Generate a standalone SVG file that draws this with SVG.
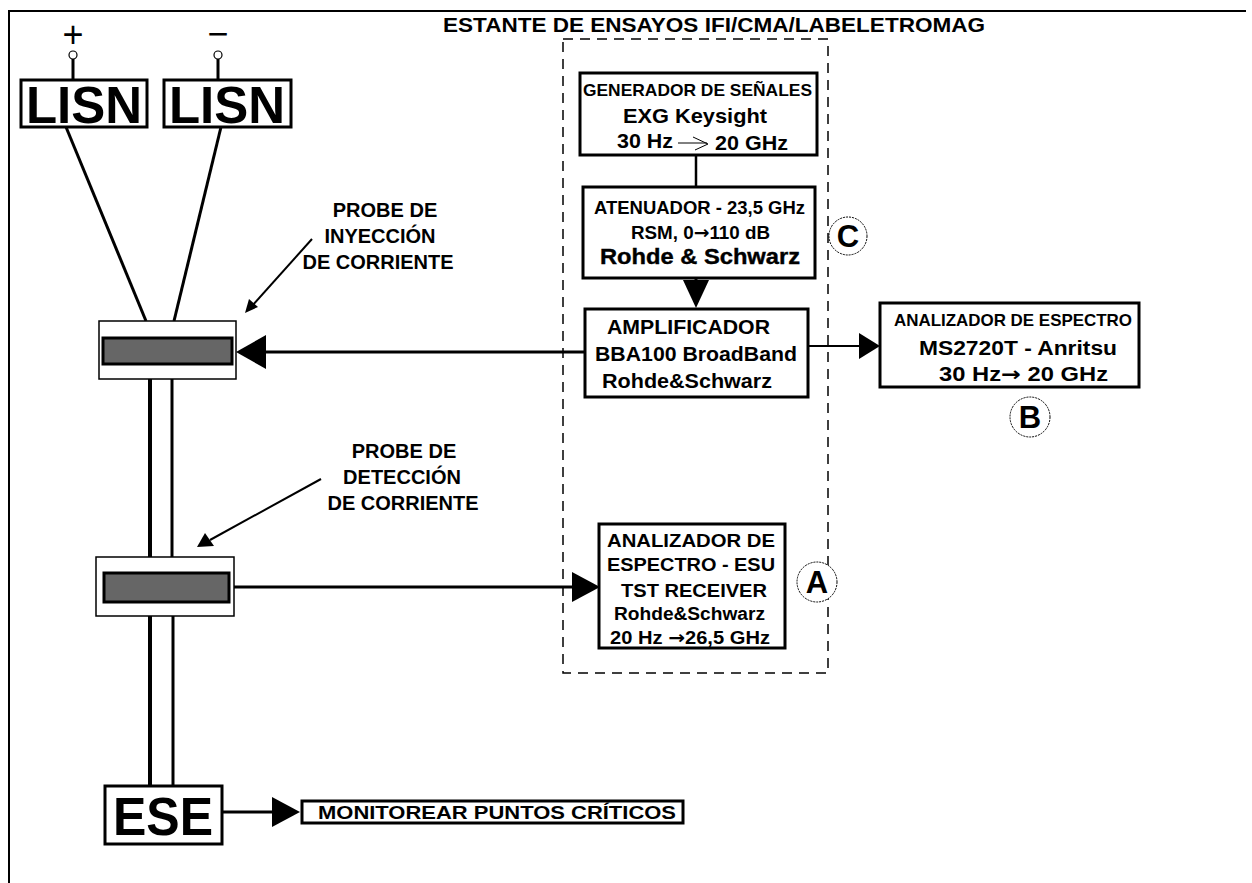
<svg xmlns="http://www.w3.org/2000/svg" width="1252" height="883" viewBox="0 0 1252 883">
<defs>
<style>
.t{font-family:"Liberation Sans",Arial,sans-serif;font-weight:bold;fill:#000}
.ar{font-family:"DejaVu Sans",sans-serif;font-weight:bold}
.box{fill:#fff;stroke:#000;stroke-width:3}
.thin{fill:#fff;stroke:#000;stroke-width:1.5}
.bar{fill:#666;stroke:#000;stroke-width:3}
.ln{stroke:#000;stroke-width:3;fill:none}
.circ{fill:#fff;stroke:#000;stroke-width:1;stroke-dasharray:2 1}
</style>
</defs>
<rect width="1252" height="883" fill="#fff"/>
<g id="frame">
<line x1="8" y1="11" x2="1246" y2="11" stroke="#000" stroke-width="2"/>
<line x1="9" y1="10" x2="9" y2="883" stroke="#000" stroke-width="2"/>
<text class="t" x="443" y="32" font-size="21" textLength="542" lengthAdjust="spacingAndGlyphs">ESTANTE DE ENSAYOS IFI/CMA/LABELETROMAG</text>
<rect x="563" y="39" width="265" height="634" fill="none" stroke="#000" stroke-width="1.5" stroke-dasharray="10 7"/>
</g>
<g id="connectors">
<line class="ln" x1="73" y1="59" x2="73" y2="80"/>
<line class="ln" x1="218" y1="59" x2="218" y2="80"/>
<line class="ln" x1="66" y1="127" x2="146" y2="321"/>
<line class="ln" x1="221" y1="127" x2="174" y2="321"/>
<line x1="150" y1="379" x2="150" y2="557" stroke="#000" stroke-width="4"/>
<line x1="172" y1="379" x2="172" y2="557" stroke="#000" stroke-width="3"/>
<line x1="150" y1="616" x2="150" y2="786" stroke="#000" stroke-width="4"/>
<line x1="173" y1="616" x2="173" y2="786" stroke="#000" stroke-width="3"/>
<line x1="696" y1="155" x2="696" y2="187" stroke="#000" stroke-width="2.5"/>
<line class="ln" x1="696" y1="278" x2="696" y2="284"/>
<polygon points="683,280 709,280 696,308"/>
<line class="ln" x1="585" y1="352" x2="262" y2="352"/>
<polygon points="236,352 266,335 266,369"/>
<line x1="808" y1="346" x2="862" y2="346" stroke="#000" stroke-width="2"/>
<polygon points="880,346 859,333 859,359"/>
<line class="ln" x1="233" y1="587" x2="575" y2="587"/>
<polygon points="600,587 572,572 572,602"/>
<line class="ln" x1="222" y1="812" x2="275" y2="812"/>
<polygon points="300,812 272,797 272,827"/>
<line x1="312" y1="239" x2="252" y2="306" stroke="#000" stroke-width="2"/>
<polygon points="245,313 249,299 258,307"/>
<line x1="321" y1="479" x2="210" y2="540" stroke="#000" stroke-width="2"/>
<polygon points="197,547 205,533 214,546"/>
</g>
<g id="plus">
<text x="73" y="47" font-family="Liberation Sans, Arial, sans-serif" font-size="36" text-anchor="middle">+</text>
<circle cx="73" cy="55" r="4" fill="#fff" stroke="#000" stroke-width="1.2"/>
</g>
<g id="minus">
<text x="218" y="46" font-family="Liberation Sans, Arial, sans-serif" font-size="36" text-anchor="middle">−</text>
<circle cx="218" cy="55" r="4" fill="#fff" stroke="#000" stroke-width="1.2"/>
</g>
<g id="lisn1">
<rect class="box" x="21" y="80" width="126" height="47"/>
<text class="t" x="84" y="123" font-size="52" text-anchor="middle" textLength="116" lengthAdjust="spacingAndGlyphs">LISN</text>
</g>
<g id="lisn2">
<rect class="box" x="164" y="80" width="127" height="47"/>
<text class="t" x="227" y="123" font-size="52" text-anchor="middle" textLength="116" lengthAdjust="spacingAndGlyphs">LISN</text>
</g>
<g id="probe-injection">
<rect class="thin" x="99" y="321" width="137" height="58"/>
<rect class="bar" x="103" y="338" width="129" height="26"/>
<text class="t" font-size="20" text-anchor="middle"><tspan x="385" y="217">PROBE DE</tspan><tspan x="380" y="243">INYECCIÓN</tspan><tspan x="378" y="269">DE CORRIENTE</tspan></text>
</g>
<g id="probe-detection">
<rect class="thin" x="96" y="557" width="138" height="59"/>
<rect class="bar" x="104" y="573" width="125" height="29"/>
<text class="t" font-size="20" text-anchor="middle"><tspan x="404" y="458">PROBE DE</tspan><tspan x="402" y="484">DETECCIÓN</tspan><tspan x="403" y="510">DE CORRIENTE</tspan></text>
</g>
<g id="generador">
<rect class="box" x="580" y="73" width="237" height="82"/>
<text class="t" x="583" y="96" font-size="17" textLength="229" lengthAdjust="spacingAndGlyphs">GENERADOR DE SEÑALES</text>
<text class="t" x="623" y="123" font-size="21" textLength="144" lengthAdjust="spacingAndGlyphs">EXG Keysight</text>
<text class="t" x="617" y="148" font-size="20" textLength="56" lengthAdjust="spacingAndGlyphs">30 Hz</text>
<text class="t" x="715" y="150" font-size="20" textLength="73" lengthAdjust="spacingAndGlyphs">20 GHz</text>
<polyline points="678,143 707,143" stroke="#000" stroke-width="1" fill="none"/>
<polyline points="693,137 708,144 695,150" stroke="#000" stroke-width="1" fill="none"/>
</g>
<g id="atenuador">
<rect class="box" x="583" y="187" width="232" height="91"/>
<text class="t" x="594" y="214" font-size="19" textLength="211" lengthAdjust="spacingAndGlyphs">ATENUADOR - 23,5 GHz</text>
<text class="t" x="631" y="239" font-size="18" textLength="139" lengthAdjust="spacingAndGlyphs">RSM, 0<tspan class="ar">→</tspan>110 dB</text>
<text class="t" x="600" y="264" font-size="22" font-weight="normal" textLength="200" lengthAdjust="spacingAndGlyphs" stroke="#000" stroke-width="0.4">Rohde &amp; Schwarz</text>
</g>
<g id="label-c">
<circle class="circ" cx="848" cy="236" r="19"/>
<text class="t" x="848" y="247" font-size="31" text-anchor="middle">C</text>
</g>
<g id="amplificador">
<rect class="box" x="585" y="309" width="223" height="88"/>
<text class="t" x="607" y="334" font-size="20" textLength="163" lengthAdjust="spacingAndGlyphs">AMPLIFICADOR</text>
<text class="t" x="595" y="361" font-size="20" textLength="202" lengthAdjust="spacingAndGlyphs">BBA100 BroadBand</text>
<text class="t" x="602" y="388" font-size="20" textLength="170" lengthAdjust="spacingAndGlyphs">Rohde&amp;Schwarz</text>
</g>
<g id="analizador-b">
<rect class="box" x="880" y="303" width="259" height="84"/>
<text class="t" x="894" y="326" font-size="17" textLength="238" lengthAdjust="spacingAndGlyphs">ANALIZADOR DE ESPECTRO</text>
<text class="t" x="919" y="355" font-size="20" textLength="198" lengthAdjust="spacingAndGlyphs">MS2720T - Anritsu</text>
<text class="t" x="939" y="381" font-size="20" textLength="169" lengthAdjust="spacingAndGlyphs">30 Hz<tspan class="ar">→</tspan> 20 GHz</text>
</g>
<g id="label-b">
<circle class="circ" cx="1030" cy="417" r="20"/>
<text class="t" x="1030" y="428" font-size="31" text-anchor="middle">B</text>
</g>
<g id="analizador-a">
<rect class="box" x="599" y="524" width="186" height="124"/>
<text class="t" x="607" y="547" font-size="18" textLength="168" lengthAdjust="spacingAndGlyphs">ANALIZADOR DE</text>
<text class="t" x="607" y="571" font-size="18" textLength="168" lengthAdjust="spacingAndGlyphs">ESPECTRO - ESU</text>
<text class="t" x="621" y="597" font-size="19" textLength="146" lengthAdjust="spacingAndGlyphs">TST RECEIVER</text>
<text class="t" x="614" y="620" font-size="18" textLength="151" lengthAdjust="spacingAndGlyphs">Rohde&amp;Schwarz</text>
<text class="t" x="610" y="644" font-size="18" textLength="160" lengthAdjust="spacingAndGlyphs">20 Hz <tspan class="ar">→</tspan>26,5 GHz</text>
</g>
<g id="label-a">
<circle class="circ" cx="817" cy="582" r="20"/>
<text class="t" x="817" y="593" font-size="31" text-anchor="middle">A</text>
</g>
<g id="ese">
<rect class="box" x="105" y="786" width="117" height="58"/>
<text class="t" x="163" y="835" font-size="54" text-anchor="middle" textLength="100" lengthAdjust="spacingAndGlyphs">ESE</text>
</g>
<g id="monitorear">
<rect class="box" x="302" y="801" width="381" height="22"/>
<text class="t" x="318" y="819" font-size="19" textLength="358" lengthAdjust="spacingAndGlyphs">MONITOREAR PUNTOS CRÍTICOS</text>
</g>
</svg>
